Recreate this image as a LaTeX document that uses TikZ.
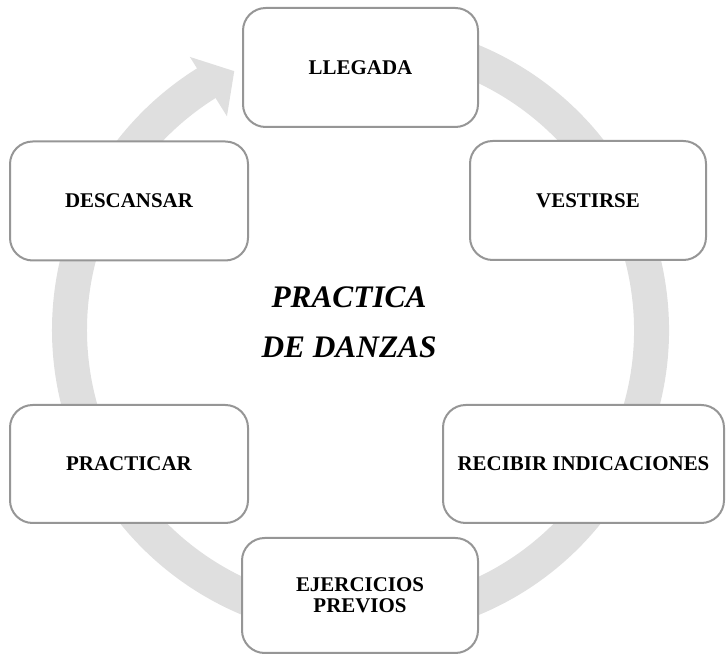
\documentclass[tikz,border=0pt]{standalone}
\usepackage{fontspec}
\setmainfont{Liberation Serif}
\usetikzlibrary{calc}
\definecolor{boxline}{RGB}{150,150,150}
\definecolor{ringgray}{RGB}{223,223,223}
\tikzset{
  stepbox/.style={draw=boxline, line width=1.5pt, fill=white, rounded corners=17pt,
    inner sep=0pt, align=center, minimum height=119*0.75pt,
    font=\fontsize{15.7}{15.75}\selectfont\bfseries},
  ringline/.style={draw=ringgray, line width=26.25pt},
  centertext/.style={anchor=base, inner sep=0pt, font=\fontsize{23.5}{28}\selectfont\bfseries\itshape}
}
\begin{document}
\begin{tikzpicture}[x=0.75pt, y=0.75pt]
\useasboundingbox (0,0) rectangle (726,654);
% ring (center at (360.5,324) in y-up px)
\coordinate (cc) at (360.5,324);
\draw[ringline] ($(cc)+(100:291)$) arc[start angle=100, end angle=-239, radius=291];
\coordinate (h1) at ($(cc)+(122:322)$);
\coordinate (h2) at ($(cc)+(122:252)$);
\coordinate (ht) at ($(cc)+(116:288)$);
\fill[ringgray] (h1) -- (ht) -- (h2) -- cycle;
% boxes
\node[stepbox, minimum width=235*0.75pt] (llegada) at (360.5,654-67.5) {LLEGADA};
\node[stepbox, minimum width=236*0.75pt] (vestirse) at (588,654-200.5) {VESTIRSE};
\node[stepbox, minimum width=238*0.75pt] (descansar) at (129,654-201) {DESCANSAR};
\node[stepbox, minimum width=238*0.75pt, minimum height=118*0.75pt] (practicar) at (129,654-464) {PRACTICAR};
\node[stepbox, minimum width=281*0.75pt, minimum height=118*0.75pt] (recibir) at (583.5,654-464) {RECIBIR INDICACIONES};
\node[stepbox, minimum width=236*0.75pt, minimum height=115*0.75pt] (ejercicios) at (360,654-595.5) {EJERCICIOS\\PREVIOS};
% centre title
\node[centertext] (c1) at (349,654-308) {PRACTICA};
\node[centertext] (c2) at (349,654-358) {DE DANZAS};
\end{tikzpicture}
\end{document}
